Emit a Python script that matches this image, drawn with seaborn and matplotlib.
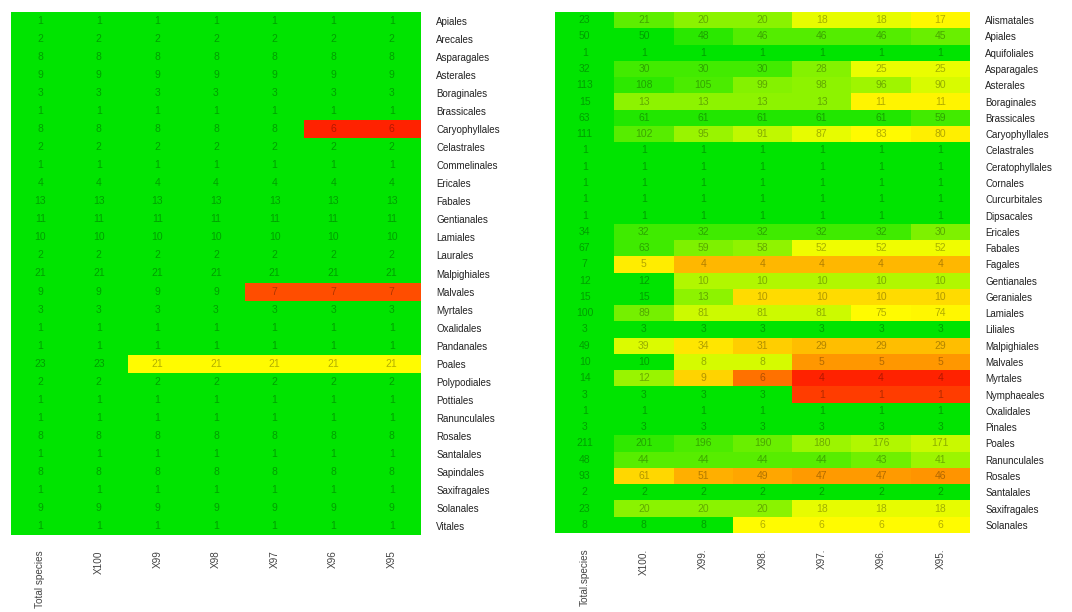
import numpy as np
import pandas as pd
import matplotlib
matplotlib.use("Agg")
import matplotlib.pyplot as plt
import seaborn as sns
from matplotlib.colors import LinearSegmentedColormap

sns.set_style("white")
plt.rcParams["font.family"] = ["Liberation Sans", "DejaVu Sans"]

# ---- Panel A: orders and species counts per identity threshold ----
left_orders = [
    "Apiales", "Arecales", "Asparagales", "Asterales", "Boraginales", "Brassicales",
    "Caryophyllales", "Celastrales", "Commelinales", "Ericales", "Fabales",
    "Gentianales", "Lamiales", "Laurales", "Malpighiales", "Malvales", "Myrtales",
    "Oxalidales", "Pandanales", "Poales", "Polypodiales", "Pottiales",
    "Ranunculales", "Rosales", "Santalales", "Sapindales", "Saxifragales",
    "Solanales", "Vitales",
]
left_columns = ["Total species", "X100", "X99", "X98", "X97", "X96", "X95"]
left_total = [1, 2, 8, 9, 3, 1, 8, 2, 1, 4, 13, 11, 10, 2, 21, 9, 3, 1, 1, 23, 2, 1, 1, 8, 1, 8, 1, 9, 1]
left_x100 = [1, 2, 8, 9, 3, 1, 8, 2, 1, 4, 13, 11, 10, 2, 21, 9, 3, 1, 1, 23, 2, 1, 1, 8, 1, 8, 1, 9, 1]
left_x99 = [1, 2, 8, 9, 3, 1, 8, 2, 1, 4, 13, 11, 10, 2, 21, 9, 3, 1, 1, 21, 2, 1, 1, 8, 1, 8, 1, 9, 1]
left_x98 = [1, 2, 8, 9, 3, 1, 8, 2, 1, 4, 13, 11, 10, 2, 21, 9, 3, 1, 1, 21, 2, 1, 1, 8, 1, 8, 1, 9, 1]
left_x97 = [1, 2, 8, 9, 3, 1, 8, 2, 1, 4, 13, 11, 10, 2, 21, 7, 3, 1, 1, 21, 2, 1, 1, 8, 1, 8, 1, 9, 1]
left_x96 = [1, 2, 8, 9, 3, 1, 6, 2, 1, 4, 13, 11, 10, 2, 21, 7, 3, 1, 1, 21, 2, 1, 1, 8, 1, 8, 1, 9, 1]
left_x95 = [1, 2, 8, 9, 3, 1, 6, 2, 1, 4, 13, 11, 10, 2, 21, 7, 3, 1, 1, 21, 2, 1, 1, 8, 1, 8, 1, 9, 1]

# ---- Panel B ----
right_orders = [
    "Alismatales", "Apiales", "Aquifoliales", "Asparagales", "Asterales",
    "Boraginales", "Brassicales", "Caryophyllales", "Celastrales",
    "Ceratophyllales", "Cornales", "Curcurbitales", "Dipsacales", "Ericales",
    "Fabales", "Fagales", "Gentianales", "Geraniales", "Lamiales", "Liliales",
    "Malpighiales", "Malvales", "Myrtales", "Nymphaeales", "Oxalidales",
    "Pinales", "Poales", "Ranunculales", "Rosales", "Santalales",
    "Saxifragales", "Solanales",
]
right_columns = ["Total.species", "X100.", "X99.", "X98.", "X97.", "X96.", "X95."]
right_total = [23, 50, 1, 32, 113, 15, 63, 111, 1, 1, 1, 1, 1, 34, 67, 7, 12, 15, 100, 3, 49, 10, 14, 3, 1, 3, 211, 48, 93, 2, 23, 8]
right_x100 = [21, 50, 1, 30, 108, 13, 61, 102, 1, 1, 1, 1, 1, 32, 63, 5, 12, 15, 89, 3, 39, 10, 12, 3, 1, 3, 201, 44, 61, 2, 20, 8]
right_x99 = [20, 48, 1, 30, 105, 13, 61, 95, 1, 1, 1, 1, 1, 32, 59, 4, 10, 13, 81, 3, 34, 8, 9, 3, 1, 3, 196, 44, 51, 2, 20, 8]
right_x98 = [20, 46, 1, 30, 99, 13, 61, 91, 1, 1, 1, 1, 1, 32, 58, 4, 10, 10, 81, 3, 31, 8, 6, 3, 1, 3, 190, 44, 49, 2, 20, 6]
right_x97 = [18, 46, 1, 28, 98, 13, 61, 87, 1, 1, 1, 1, 1, 32, 52, 4, 10, 10, 81, 3, 29, 5, 4, 1, 1, 3, 180, 44, 47, 2, 18, 6]
right_x96 = [18, 46, 1, 25, 96, 11, 61, 83, 1, 1, 1, 1, 1, 32, 52, 4, 10, 10, 75, 3, 29, 5, 4, 1, 1, 3, 176, 43, 47, 2, 18, 6]
right_x95 = [17, 45, 1, 25, 90, 11, 59, 80, 1, 1, 1, 1, 1, 30, 52, 4, 10, 10, 74, 3, 29, 5, 4, 1, 1, 3, 171, 41, 46, 2, 18, 6]

# red -> orange -> yellow -> green ramp, coloured by share of the row total
ramp = LinearSegmentedColormap.from_list(
    "ryg", ["#FF2200", "#FFA500", "#FFFF00", "#00E400"]
)


def build(orders, columns, series):
    counts = pd.DataFrame(np.column_stack(series), index=orders, columns=columns)
    ratio = counts.div(counts.iloc[:, 0], axis=0)
    return counts, ratio


def draw(ax, counts, ratio):
    sns.heatmap(
        ratio, ax=ax, cmap=ramp, vmin=ratio.values.min(), vmax=1.0,
        annot=counts, fmt="d", cbar=False, linewidths=0,
        annot_kws=dict(fontsize=7.5, color=(0, 0, 0, 0.3)),
    )
    ax.yaxis.tick_right()
    ax.set_yticks(np.arange(len(counts.index)) + 0.5)
    ax.set_yticklabels(counts.index, rotation=0, fontsize=7, color="#222222",
                       ha="left")
    ax.set_xticks(np.arange(len(counts.columns)) + 0.5)
    ax.set_xticklabels(counts.columns, rotation=90, fontsize=7.2,
                       color="#444444", ha="center", va="top")
    ax.tick_params(axis="both", length=0)
    ax.tick_params(axis="y", pad=11)
    ax.tick_params(axis="x", pad=11)
    ax.set_xlabel("")
    ax.set_ylabel("")


fig = plt.figure(figsize=(10.72, 6.12), dpi=100)
W, H = 1072, 612

ax_l = fig.add_axes([11 / W, 1 - 535 / H, 410 / W, 523 / H])
ax_r = fig.add_axes([555 / W, 1 - 533 / H, 415 / W, 521 / H])

counts_l, ratio_l = build(left_orders, left_columns,
                          [left_total, left_x100, left_x99, left_x98,
                           left_x97, left_x96, left_x95])
counts_r, ratio_r = build(right_orders, right_columns,
                          [right_total, right_x100, right_x99, right_x98,
                           right_x97, right_x96, right_x95])

draw(ax_l, counts_l, ratio_l)
draw(ax_r, counts_r, ratio_r)

fig.savefig("out.png", dpi=100, facecolor="white")
